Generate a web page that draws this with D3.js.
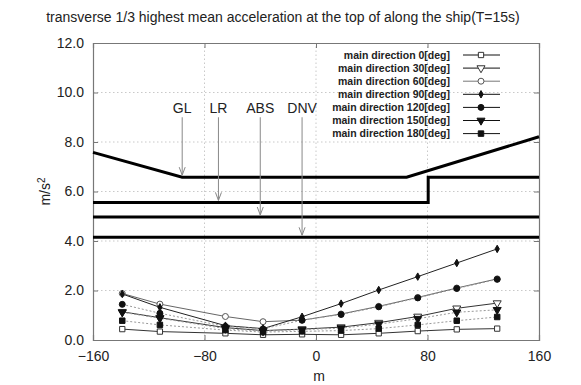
<!DOCTYPE html>
<html>
<head>
<meta charset="utf-8">
<script src="https://cdn.jsdelivr.net/npm/d3@7"></script>
<style>
  html, body { margin: 0; padding: 0; background: #fff; }
  svg { display: block; font-family: "Liberation Sans", Arial, sans-serif; }
</style>
</head>
<body>
<svg id="chart" width="581" height="385"></svg>
<script>
// Station positions along the ship [m]
const stations = [-139, -112, -65, -38, -10, 18, 45, 73, 101, 130];

// 1/3 highest mean transverse acceleration [m/s^2] per main wave direction
const dir0   = [0.44, 0.34, 0.27, 0.21, 0.23, 0.21, 0.27, 0.36, 0.43, 0.46];
const dir30  = [1.14, 0.90, 0.50, 0.38, 0.44, 0.52, 0.70, 0.95, 1.28, 1.49];
const dir60  = [1.88, 1.45, 0.95, 0.74, 0.80, 1.05, 1.36, 1.72, 2.10, 2.47];
const dir90  = [1.86, 1.32, 0.58, 0.46, 0.94, 1.47, 2.02, 2.56, 3.11, 3.68];
const dir120 = [1.44, 1.08, 0.55, 0.45, 0.80, 1.03, 1.34, 1.70, 2.08, 2.45];
const dir150 = [1.12, 0.88, 0.46, 0.36, 0.42, 0.48, 0.64, 0.86, 1.12, 1.22];
const dir180 = [0.78, 0.61, 0.40, 0.32, 0.35, 0.38, 0.46, 0.61, 0.78, 0.93];

const seriesNames = ["main direction 0[deg]", "main direction 30[deg]", "main direction 60[deg]",
  "main direction 90[deg]", "main direction 120[deg]", "main direction 150[deg]", "main direction 180[deg]"];

// Rule limits (piecewise lines)
const glX  = [-160, -96, 65, 160];
const glY  = [7.58, 6.58, 6.58, 8.21];
const lrX  = [-160, 80.5, 80.5, 160];
const lrY  = [5.56, 5.56, 6.58, 6.58];
const absX = [-160, 160];
const absY = [4.97, 4.97];
const dnvX = [-160, 160];
const dnvY = [4.15, 4.15];

// Rule labels and their arrow positions
const ruleNames  = ["GL", "LR", "ABS", "DNV"];
const ruleArrowX = [-96, -70, -40, -10];
const ruleArrowTo = [6.58, 5.56, 4.97, 4.15];
const ruleLabelY = 9.35;
const ruleArrowFrom = 9.0;

const xTicks = [-160, -80, 0, 80, 160];
const yTicks = [0, 2, 4, 6, 8, 10, 12];

const svg = d3.select("#chart");
const x = d3.scaleLinear().domain([-160, 160]).range([93, 539]);
const y = d3.scaleLinear().domain([0, 12]).range([340, 43]);

// Grid
const grid = svg.append("g").attr("stroke", "#bbb").attr("stroke-width", 0.8).attr("stroke-dasharray", "1.5,2.5");
xTicks.slice(1, -1).forEach(t => grid.append("line").attr("x1", x(t)).attr("x2", x(t)).attr("y1", y(0)).attr("y2", y(12)));
yTicks.slice(1, -1).forEach(t => grid.append("line").attr("x1", x(-160)).attr("x2", x(160)).attr("y1", y(t)).attr("y2", y(t)));

// Axes with inward ticks on all four sides
const tickLen = 5;
const axL = svg.append("g").attr("transform", `translate(${x(-160)},0)`)
  .call(d3.axisLeft(y).tickValues(yTicks).tickSize(-tickLen).tickPadding(9).tickFormat(d3.format(".1f")));
const axR = svg.append("g").attr("transform", `translate(${x(160)},0)`)
  .call(d3.axisRight(y).tickValues(yTicks).tickSize(-tickLen).tickFormat(""));
const axB = svg.append("g").attr("transform", `translate(0,${y(0)})`)
  .call(d3.axisBottom(x).tickValues(xTicks).tickSize(-tickLen).tickPadding(8).tickFormat(d3.format("d")));
const axT = svg.append("g").attr("transform", `translate(0,${y(12)})`)
  .call(d3.axisTop(x).tickValues(xTicks).tickSize(-tickLen).tickFormat(""));
[axL, axR, axB, axT].forEach(a => {
  a.select(".domain").attr("stroke", "#777").attr("stroke-width", 1.2);
  a.selectAll(".tick line").attr("stroke", "#777");
  a.selectAll("text").attr("font-size", 14).attr("fill", "#222")
    .attr("font-family", "'Liberation Sans', Arial, sans-serif");
});
axB.selectAll("text").attr("dy", "0.9em");

// Title and axis labels
svg.append("text").attr("x", 283).attr("y", 22).attr("text-anchor", "middle")
  .attr("font-size", 14).attr("fill", "#222")
  .text("transverse 1/3 highest mean acceleration at the top of along the ship(T=15s)");
svg.append("text").attr("x", x(0) + 3).attr("y", 381).attr("text-anchor", "middle")
  .attr("font-size", 14).attr("fill", "#222").text("m");
const yl = svg.append("text").attr("transform", `translate(50,${y(6)}) rotate(-90)`)
  .attr("text-anchor", "middle").attr("font-size", 14).attr("fill", "#222");
yl.append("tspan").text("m/s");
yl.append("tspan").attr("dy", -5).attr("font-size", 10).text("2");

// Thick rule lines
const line = d3.line().x(d => x(d[0])).y(d => y(d[1]));
const ruleLines = [[glX, glY], [lrX, lrY], [absX, absY], [dnvX, dnvY]];
ruleLines.forEach(([xs, ys]) => {
  svg.append("path").datum(xs.map((v, i) => [v, ys[i]]))
    .attr("d", line).attr("fill", "none").attr("stroke", "#000")
    .attr("stroke-width", 3).attr("stroke-linejoin", "miter");
});

// Rule arrows and labels
ruleNames.forEach((name, i) => {
  const ax = x(ruleArrowX[i]);
  svg.append("text").attr("x", ax).attr("y", y(ruleLabelY) + 4).attr("text-anchor", "middle")
    .attr("font-size", 14).attr("fill", "#222").text(name);
  const yTip = y(ruleArrowTo[i]) - 2;
  svg.append("line").attr("x1", ax).attr("x2", ax).attr("y1", y(ruleArrowFrom)).attr("y2", yTip)
    .attr("stroke", "#888").attr("stroke-width", 1);
  svg.append("path").attr("d", `M${ax - 3},${yTip - 8}L${ax},${yTip}L${ax + 3},${yTip - 8}`)
    .attr("fill", "none").attr("stroke", "#888").attr("stroke-width", 1);
});

// Data series
const seriesValues = [dir0, dir30, dir60, dir90, dir120, dir150, dir180];
const styles = [
  { sym: d3.symbolSquare,   size: 28, fill: "#fff", stroke: "#333", lc: "#333", dash: null,  rot: 0 },
  { sym: d3.symbolTriangle, size: 28, fill: "#fff", stroke: "#333", lc: "#333", dash: null,  rot: 180 },
  { sym: d3.symbolCircle,   size: 28, fill: "#fff", stroke: "#555", lc: "#666", dash: null,  rot: 0 },
  { sym: d3.symbolDiamond,  size: 16, fill: "#111", stroke: "#111", lc: "#222", dash: null,  rot: 0 },
  { sym: d3.symbolCircle,   size: 28, fill: "#111", stroke: "#111", lc: "#999", dash: "2,2", rot: 0 },
  { sym: d3.symbolTriangle, size: 28, fill: "#111", stroke: "#111", lc: "#999", dash: "2,2", rot: 180 },
  { sym: d3.symbolSquare,   size: 30, fill: "#111", stroke: "#111", lc: "#999", dash: "2,2", rot: 0 }
];

const plot = svg.append("g");
seriesValues.forEach((vals, k) => {
  const st = styles[k];
  const pts = stations.map((s, i) => [s, vals[i]]);
  plot.append("path").datum(pts).attr("d", line).attr("fill", "none")
    .attr("stroke", st.lc).attr("stroke-width", 1).attr("stroke-dasharray", st.dash);
});
seriesValues.forEach((vals, k) => {
  const st = styles[k];
  const sym = d3.symbol().type(st.sym).size(st.size);
  plot.selectAll(null).data(stations.map((s, i) => [s, vals[i]])).enter().append("path")
    .attr("d", sym)
    .attr("transform", d => `translate(${x(d[0])},${y(d[1])}) rotate(${st.rot})`)
    .attr("fill", st.fill).attr("stroke", st.stroke).attr("stroke-width", 1);
});

// Legend
const legend = svg.append("g").attr("font-size", 10.5).attr("fill", "#111");
seriesNames.forEach((name, k) => {
  const st = styles[k];
  const ly = 55 + k * 13.1;
  legend.append("text").attr("x", 450).attr("y", ly + 3.7).attr("text-anchor", "end")
    .attr("font-weight", "bold").attr("fill", "#222").text(name);
  legend.append("line").attr("x1", 463).attr("x2", 500).attr("y1", ly).attr("y2", ly)
    .attr("stroke", k === 2 ? "#777" : "#111").attr("stroke-width", 1);
  legend.append("path").attr("d", d3.symbol().type(st.sym).size(st.size)())
    .attr("transform", `translate(481,${ly}) rotate(${st.rot})`)
    .attr("fill", st.fill).attr("stroke", st.stroke).attr("stroke-width", 1);
});
</script>
</body>
</html>
